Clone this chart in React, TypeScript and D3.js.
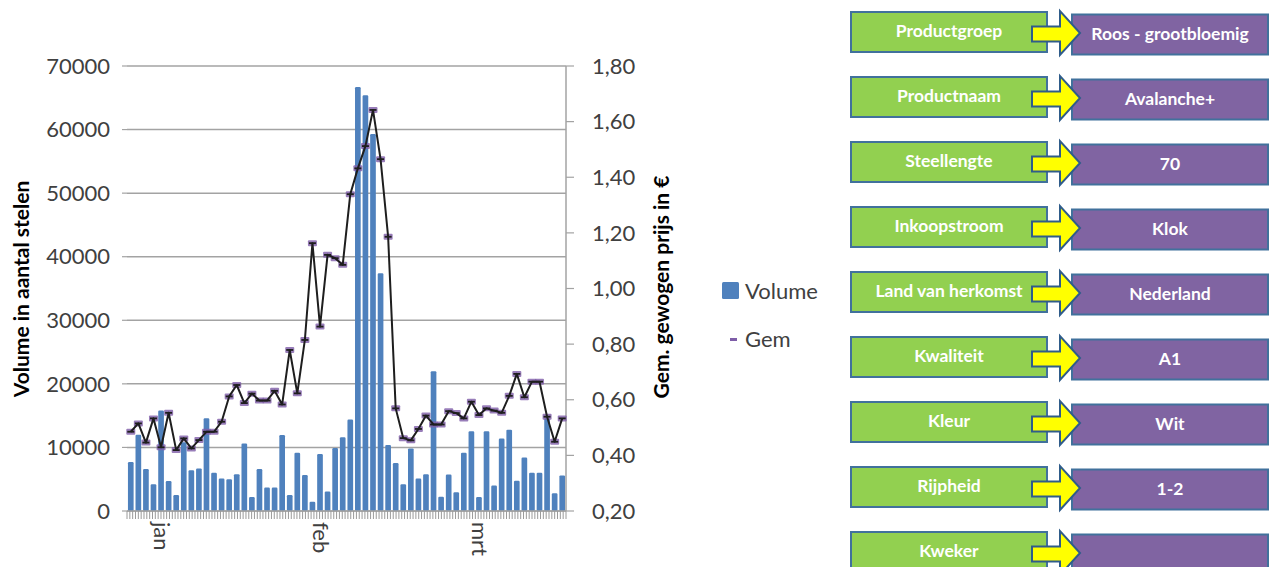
import React from 'react';
import * as d3 from 'd3';

// Trading days shown on the x axis (58 categories); month names sit on the first day of each month
const monthLabels = ['jan', 'feb', 'mrt'];
const monthStart = [4, 25, 46];

// Volume in aantal stelen (bars, left axis)
const volume = [
  7700, 12000, 6600, 4200, 15800, 4700, 2500, 10800, 6400, 6700,
  14600, 6000, 5100, 5000, 5800, 10600, 2200, 6600, 3700, 3700,
  11950, 2500, 9150, 5650, 1450, 8950, 3050, 9900, 11600, 14400,
  66700, 65400, 59300, 37400, 10400, 7550, 4200, 9850, 5100, 5800,
  22000, 2250, 5750, 2950, 9150, 12550, 2200, 12550, 4000, 11400,
  12800, 4750, 8400, 6000, 6000, 14600, 2800, 5600,
];

// Gem. gewogen prijs in € (line, right axis)
const price = [
  0.485, 0.515, 0.446, 0.533, 0.429, 0.553, 0.419, 0.461, 0.425, 0.455,
  0.485, 0.485, 0.521, 0.612, 0.653, 0.588, 0.622, 0.597, 0.597, 0.632,
  0.583, 0.779, 0.623, 0.815, 1.163, 0.863, 1.121, 1.109, 1.085, 1.339,
  1.432, 1.512, 1.642, 1.465, 1.186, 0.569, 0.462, 0.454, 0.495, 0.543,
  0.511, 0.511, 0.559, 0.552, 0.533, 0.593, 0.545, 0.569, 0.561, 0.553,
  0.614, 0.693, 0.609, 0.665, 0.665, 0.539, 0.449, 0.533,
];

const leftTicks = [0, 10000, 20000, 30000, 40000, 50000, 60000, 70000];
const rightTicks = [0.2, 0.4, 0.6, 0.8, 1.0, 1.2, 1.4, 1.6, 1.8];

// Product filter panel
const propNames = ['Productgroep', 'Productnaam', 'Steellengte', 'Inkoopstroom', 'Land van herkomst', 'Kwaliteit', 'Kleur', 'Rijpheid', 'Kweker'];
const propValues = ['Roos - grootbloemig', 'Avalanche+', '70', 'Klok', 'Nederland', 'A1', 'Wit', '1-2', ''];

const FONT = 'Lato, "Open Sans", sans-serif';
const BLUE = '#4F81BD';
const PURPLE = '#7E5DA8';
const GRID = '#a3a3a3';

const App = () => {
  const width = 1272;
  const height = 567;
  const margin = { top: 66, right: 706, bottom: 56, left: 127 };
  const plotR = width - margin.right;
  const plotB = height - margin.bottom;

  const x = d3.scaleBand<number>()
    .domain(d3.range(volume.length))
    .range([margin.left, plotR])
    .paddingInner(0.25)
    .paddingOuter(0.125);

  const yLeft = d3.scaleLinear().domain([0, 70000]).range([plotB, margin.top]);
  const yRight = d3.scaleLinear().domain([0.2, 1.8]).range([plotB, margin.top]);

  const nl = d3.formatLocale({ decimal: ',', thousands: '.', grouping: [3], currency: ['€', ''] });
  const fmtRight = nl.format('.2f');
  const fmtLeft = d3.format('d');

  const cx = (i: number) => (x(i) as number) + x.bandwidth() / 2;

  const line = d3.line<number>()
    .x((d, i) => cx(i))
    .y(d => yRight(d));

  // dense comb of small tick marks along the bottom axis
  const minor = d3.scaleLinear().domain([0, 155]).range([margin.left, plotR]);
  const minorTicks = d3.range(156).map(minor);

  // right panel layout
  const rowY = d3.scaleLinear().domain([0, 1]).range([12, 77]);

  return (
    <div style={{ position: 'absolute', left: 0, top: 0, background: '#fff' }}>
      <svg width={width} height={height} style={{ display: 'block' }} fontFamily={FONT}>
        <rect width={width} height={height} fill="#fff" />

        {/* gridlines */}
        {leftTicks.map(t => (
          <line key={'g' + t} x1={margin.left} x2={plotR} y1={yLeft(t)} y2={yLeft(t)} stroke={GRID} strokeWidth={1.5} />
        ))}
        {leftTicks.map(t => (
          <line key={'lt' + t} x1={margin.left - 5} x2={margin.left} y1={yLeft(t)} y2={yLeft(t)} stroke={GRID} strokeWidth={1.2} />
        ))}

        {/* bars */}
        {volume.map((v, i) => (
          <rect key={'b' + i} x={x(i)} y={yLeft(v)} width={x.bandwidth()} height={plotB - yLeft(v)} fill={BLUE} rx={1.2} />
        ))}

        {/* bottom axis */}
        <line x1={margin.left} x2={plotR} y1={plotB} y2={plotB} stroke={GRID} strokeWidth={1.5} />
        {minorTicks.map((t, i) => (
          <line key={'mt' + i} x1={t} x2={t} y1={plotB} y2={plotB + 8} stroke="#9a9a9a" strokeWidth={1} />
        ))}
        {monthLabels.map((m, k) => (
          <text key={m} transform={`translate(${cx(monthStart[k]) - 7},${plotB + 11}) rotate(90)`}
            fontSize={22} fill="#404040" textAnchor="start">{m}</text>
        ))}

        {/* right axis */}
        <line x1={plotR} x2={plotR} y1={margin.top} y2={plotB} stroke={GRID} strokeWidth={1.5} />
        {rightTicks.map(t => (
          <line key={'rt' + t} x1={plotR} x2={plotR + 8} y1={yRight(t)} y2={yRight(t)} stroke={GRID} strokeWidth={1.2} />
        ))}

        {/* price line with dash markers */}
        {price.map((p, i) => (
          <rect key={'m' + i} x={cx(i) - 4.5} y={yRight(p) - 3} width={9} height={6} fill={PURPLE} opacity={0.8} rx={1} />
        ))}
        <path d={line(price) || ''} fill="none" stroke="#1e1e1e" strokeWidth={2} strokeLinejoin="round" />
        {price.map((p, i) => (
          <line key={'md' + i} x1={cx(i) - 3.5} x2={cx(i) + 3.5} y1={yRight(p)} y2={yRight(p)} stroke="#1e1e1e" strokeWidth={1.8} />
        ))}

        {/* tick labels */}
        {leftTicks.map(t => (
          <text key={'ll' + t} x={110} y={yLeft(t)} dy="0.35em" textAnchor="end" fontSize={22} fill="#404040">{fmtLeft(t)}</text>
        ))}
        {rightTicks.map(t => (
          <text key={'rl' + t} x={592} y={yRight(t)} dy="0.35em" textAnchor="start" fontSize={22} fill="#404040">{fmtRight(t)}</text>
        ))}

        {/* axis titles */}
        <text transform="translate(22,289) rotate(-90)" textAnchor="middle" dy="0.35em" fontSize={21} fontWeight="bold" fill="#000">Volume in aantal stelen</text>
        <text transform="translate(662,287) rotate(-90)" textAnchor="middle" dy="0.35em" fontSize={21} fontWeight="bold" fill="#000">Gem. gewogen prijs in €</text>

        {/* legend */}
        <rect x={722} y={282} width={17} height={17} fill={BLUE} rx={1.5} />
        <text x={745} y={299} fontSize={22} fill="#404040">Volume</text>
        <rect x={730} y={338} width={7} height={3} fill={PURPLE} />
        <text x={745} y={347} fontSize={22} fill="#404040">Gem</text>

        {/* product panel */}
        {propNames.map((name, i) => {
          const y0 = rowY(i);
          const arrow = `M1032,${y0 + 14.5} L1060,${y0 + 14.5} L1060,${y0 - 1} L1080,${y0 + 21} L1060,${y0 + 43} L1060,${y0 + 29.5} L1032,${y0 + 29.5} Z`;
          return (
            <g key={name}>
              <rect x={851} y={y0} width={196} height={40} fill="#92D050" stroke="#41719C" strokeWidth={2} />
              <text x={949} y={y0 + 25} textAnchor="middle" fontSize={17.5} fontWeight="bold" fill="#fff">{name}</text>
              <rect x={1072} y={y0 + 2.5} width={196} height={40} fill="#8064A2" stroke="#41719C" strokeWidth={2} />
              <text x={1170} y={y0 + 28} textAnchor="middle" fontSize={17.5} fontWeight="bold" fill="#fff">{propValues[i]}</text>
              <path d={arrow} fill="#FFFF00" stroke="#2F5C8A" strokeWidth={2} strokeLinejoin="miter" />
            </g>
          );
        })}
      </svg>
    </div>
  );
};

export default App;
